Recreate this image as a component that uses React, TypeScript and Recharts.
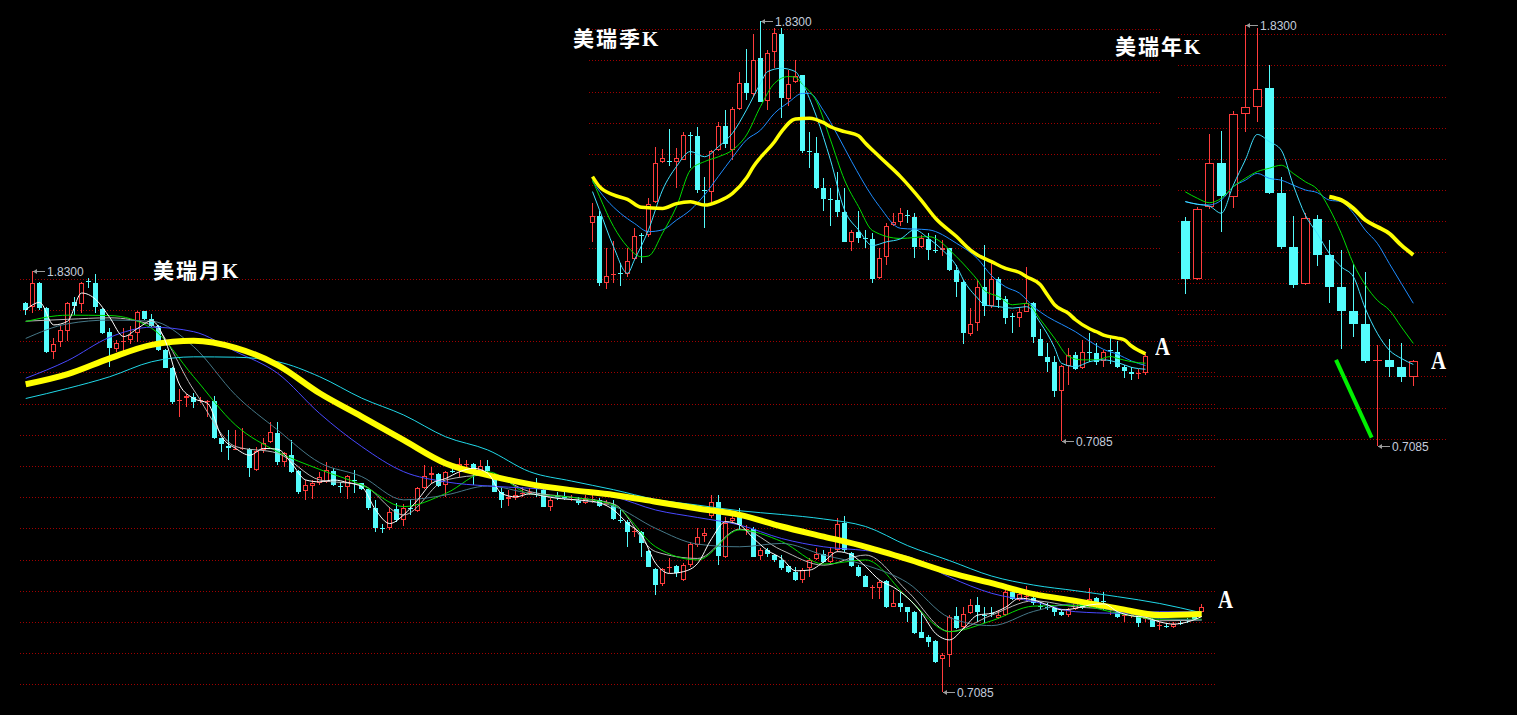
import React from "react";
import {
  ComposedChart, Bar, Line, XAxis, YAxis, CartesianGrid, ReferenceDot, ReferenceLine,
} from "recharts";

const WIDTH = 1517;
const HEIGHT = 715;
const UP_COLOR = "#ff3c3c";
const DOWN_COLOR = "#54fcfc";
const GRID_COLOR = "#a00000";

type Ohlc = [number, number, number, number];
type Pt = [number, number];

// 月K  [open, high, low, close]
const monthBars: Ohlc[] = [
  [1.743, 1.747, 1.711, 1.725], [1.732, 1.83, 1.716, 1.798], [1.798, 1.8, 1.725, 1.729], [1.729, 1.734, 1.61, 1.614],
  [1.614, 1.649, 1.593, 1.634], [1.64, 1.685, 1.627, 1.671], [1.67, 1.746, 1.643, 1.744], [1.745, 1.76, 1.711, 1.736],
  [1.741, 1.8, 1.716, 1.798], [1.801, 1.809, 1.783, 1.799], [1.796, 1.822, 1.716, 1.732], [1.727, 1.729, 1.662, 1.664],
  [1.666, 1.676, 1.572, 1.624], [1.621, 1.645, 1.614, 1.636], [1.639, 1.676, 1.614, 1.641], [1.645, 1.682, 1.634, 1.659],
  [1.664, 1.723, 1.64, 1.72], [1.722, 1.722, 1.698, 1.701], [1.701, 1.713, 1.679, 1.683], [1.682, 1.684, 1.616, 1.618],
  [1.618, 1.62, 1.569, 1.571], [1.571, 1.573, 1.474, 1.481], [1.483, 1.513, 1.439, 1.485], [1.491, 1.5, 1.466, 1.497],
  [1.494, 1.503, 1.463, 1.481], [1.482, 1.494, 1.476, 1.484], [1.48, 1.485, 1.441, 1.482], [1.483, 1.497, 1.381, 1.383],
  [1.383, 1.385, 1.347, 1.367], [1.362, 1.405, 1.325, 1.356], [1.353, 1.405, 1.352, 1.355], [1.354, 1.41, 1.352, 1.356],
  [1.354, 1.356, 1.281, 1.303], [1.299, 1.361, 1.297, 1.35], [1.352, 1.383, 1.345, 1.371], [1.374, 1.427, 1.371, 1.401],
  [1.398, 1.427, 1.312, 1.321], [1.321, 1.347, 1.306, 1.343], [1.338, 1.378, 1.291, 1.294], [1.296, 1.298, 1.235, 1.241],
  [1.243, 1.272, 1.219, 1.259], [1.256, 1.272, 1.22, 1.263], [1.263, 1.294, 1.259, 1.281], [1.267, 1.321, 1.265, 1.299],
  [1.297, 1.303, 1.256, 1.259], [1.257, 1.267, 1.236, 1.255], [1.252, 1.285, 1.222, 1.283], [1.273, 1.299, 1.238, 1.271],
  [1.263, 1.265, 1.245, 1.247], [1.247, 1.25, 1.192, 1.196], [1.196, 1.219, 1.134, 1.143], [1.144, 1.156, 1.13, 1.142],
  [1.143, 1.199, 1.139, 1.188], [1.194, 1.21, 1.161, 1.165], [1.165, 1.208, 1.149, 1.196], [1.197, 1.22, 1.179, 1.195],
  [1.19, 1.252, 1.188, 1.25], [1.25, 1.312, 1.247, 1.283], [1.285, 1.307, 1.263, 1.29], [1.288, 1.29, 1.252, 1.256],
  [1.259, 1.297, 1.227, 1.294], [1.295, 1.307, 1.29, 1.293], [1.303, 1.33, 1.281, 1.314], [1.313, 1.325, 1.299, 1.315],
  [1.315, 1.316, 1.259, 1.288], [1.296, 1.325, 1.291, 1.31], [1.31, 1.325, 1.287, 1.296], [1.285, 1.29, 1.239, 1.241],
  [1.241, 1.25, 1.196, 1.219], [1.221, 1.245, 1.203, 1.226], [1.223, 1.259, 1.219, 1.232], [1.235, 1.254, 1.227, 1.237],
  [1.237, 1.25, 1.232, 1.239], [1.251, 1.276, 1.227, 1.249], [1.245, 1.25, 1.199, 1.201], [1.201, 1.223, 1.19, 1.219],
  [1.228, 1.241, 1.219, 1.226], [1.229, 1.245, 1.219, 1.223], [1.225, 1.232, 1.217, 1.227], [1.219, 1.226, 1.205, 1.21],
  [1.21, 1.232, 1.208, 1.222], [1.218, 1.235, 1.21, 1.22], [1.219, 1.223, 1.199, 1.203], [1.206, 1.219, 1.203, 1.21],
  [1.205, 1.219, 1.165, 1.167], [1.165, 1.192, 1.158, 1.163], [1.161, 1.165, 1.094, 1.134], [1.133, 1.148, 1.121, 1.136],
  [1.134, 1.136, 1.068, 1.103], [1.084, 1.085, 1.039, 1.041], [1.034, 1.037, 0.966, 0.992], [0.995, 1.037, 0.99, 1.034],
  [1.038, 1.063, 1.025, 1.04], [1.043, 1.045, 1.014, 1.025], [1.005, 1.05, 1.004, 1.045], [1.045, 1.108, 1.041, 1.101],
  [1.099, 1.143, 1.094, 1.119], [1.123, 1.143, 1.108, 1.13], [1.176, 1.232, 1.17, 1.214], [1.214, 1.232, 1.045, 1.069],
  [1.066, 1.174, 1.063, 1.158], [1.164, 1.183, 1.156, 1.17], [1.176, 1.196, 1.139, 1.152], [1.14, 1.152, 1.125, 1.142],
  [1.141, 1.148, 1.066, 1.068], [1.069, 1.09, 1.059, 1.085], [1.085, 1.09, 1.066, 1.075], [1.072, 1.075, 1.054, 1.059],
  [1.059, 1.072, 1.032, 1.037], [1.043, 1.045, 1.023, 1.028], [1.028, 1.039, 1.004, 1.005], [1.005, 1.037, 0.998, 1.032],
  [1.037, 1.063, 1.014, 1.059], [1.061, 1.09, 1.059, 1.075], [1.075, 1.085, 1.05, 1.054], [1.054, 1.094, 1.05, 1.081],
  [1.085, 1.172, 1.081, 1.156], [1.158, 1.176, 1.081, 1.085], [1.077, 1.081, 1.039, 1.043], [1.041, 1.045, 1.014, 1.016],
  [1.016, 1.019, 0.986, 0.988], [0.985, 0.992, 0.954, 0.987], [0.983, 1.005, 0.954, 1.001], [1.004, 1.005, 0.93, 0.934],
  [0.934, 0.979, 0.933, 0.943], [0.943, 0.974, 0.921, 0.933], [0.933, 0.934, 0.894, 0.921], [0.921, 0.922, 0.863, 0.865],
  [0.868, 0.917, 0.85, 0.852], [0.855, 0.859, 0.828, 0.841], [0.844, 0.846, 0.785, 0.788], [0.794, 0.812, 0.7085, 0.806],
  [0.806, 0.912, 0.773, 0.908], [0.91, 0.934, 0.874, 0.877], [0.879, 0.934, 0.877, 0.915], [0.918, 0.954, 0.915, 0.939],
  [0.939, 0.959, 0.894, 0.921], [0.913, 0.934, 0.892, 0.911], [0.918, 0.934, 0.906, 0.916], [0.903, 0.926, 0.902, 0.912],
  [0.912, 0.979, 0.91, 0.974], [0.974, 0.983, 0.952, 0.954], [0.952, 0.974, 0.95, 0.968], [0.96, 0.99, 0.95, 0.962],
  [0.957, 0.961, 0.939, 0.943], [0.935, 0.948, 0.926, 0.933], [0.934, 0.943, 0.926, 0.932], [0.93, 0.934, 0.91, 0.921],
  [0.921, 0.926, 0.91, 0.912], [0.912, 0.93, 0.908, 0.926], [0.928, 0.952, 0.926, 0.943], [0.942, 0.948, 0.927, 0.93],
  [0.934, 0.983, 0.93, 0.954], [0.957, 0.961, 0.93, 0.948], [0.949, 0.974, 0.926, 0.947], [0.926, 0.936, 0.912, 0.934],
  [0.921, 0.926, 0.903, 0.906], [0.909, 0.917, 0.894, 0.911], [0.911, 0.917, 0.903, 0.913], [0.908, 0.912, 0.881, 0.89],
  [0.902, 0.908, 0.894, 0.904], [0.899, 0.903, 0.879, 0.881], [0.883, 0.894, 0.872, 0.885], [0.884, 0.89, 0.877, 0.882],
  [0.881, 0.894, 0.877, 0.888], [0.891, 0.897, 0.886, 0.889], [0.898, 0.903, 0.892, 0.896], [0.908, 0.917, 0.899, 0.901],
  [0.921, 0.942, 0.918, 0.934],
];

// 月K均线 [bar index, value]
const monthMa5: Pt[] = [
  [0, 1.725], [2, 1.745], [4, 1.685], [6, 1.695], [8, 1.77], [10, 1.753], [12, 1.705], [14, 1.654], [16, 1.676],
  [18, 1.696], [20, 1.64], [22, 1.525], [24, 1.489], [26, 1.476], [28, 1.387], [30, 1.356], [32, 1.338], [34, 1.356],
  [36, 1.354], [38, 1.316], [40, 1.272], [42, 1.267], [44, 1.272], [46, 1.265], [48, 1.254], [50, 1.192], [52, 1.156],
  [54, 1.179], [56, 1.219], [58, 1.263], [60, 1.276], [62, 1.294], [64, 1.303], [66, 1.29], [68, 1.236], [70, 1.227],
  [72, 1.235], [74, 1.229], [76, 1.223], [78, 1.22], [80, 1.217], [82, 1.211], [84, 1.192], [86, 1.156], [88, 1.125],
  [90, 1.05], [92, 1.023], [94, 1.028], [96, 1.05], [98, 1.116], [100, 1.161], [102, 1.152], [104, 1.116], [106, 1.084],
  [108, 1.063], [110, 1.03], [112, 1.032], [114, 1.054], [116, 1.081], [118, 1.072], [120, 1.041], [122, 1.005],
  [124, 0.986], [126, 0.958], [128, 0.917], [130, 0.863], [132, 0.846], [134, 0.877], [136, 0.912], [138, 0.917],
  [140, 0.933], [142, 0.957], [144, 0.952], [146, 0.939], [148, 0.926], [150, 0.93], [152, 0.939], [154, 0.942],
  [156, 0.921], [158, 0.91], [160, 0.906], [162, 0.894], [164, 0.888], [166, 0.894], [168, 0.908],
];
const monthMa10: Pt[] = [
  [0, 1.695], [6, 1.7], [12, 1.704], [18, 1.685], [24, 1.512], [30, 1.361], [36, 1.343], [42, 1.272], [48, 1.259],
  [54, 1.179], [60, 1.272], [66, 1.285], [72, 1.241], [78, 1.226], [84, 1.208], [90, 1.081], [96, 1.063], [102, 1.141],
  [108, 1.085], [114, 1.045], [120, 1.072], [126, 0.975], [132, 0.868], [138, 0.912], [144, 0.95], [150, 0.934],
  [156, 0.926], [162, 0.897], [168, 0.899],
];
const monthMa20: Pt[] = [
  [0, 1.694], [6, 1.711], [12, 1.71], [18, 1.676], [24, 1.547], [30, 1.418], [36, 1.347], [42, 1.3], [48, 1.259],
  [54, 1.201], [60, 1.236], [66, 1.294], [72, 1.235], [78, 1.226], [84, 1.205], [90, 1.094], [96, 1.059], [102, 1.139],
  [108, 1.108], [114, 1.048], [120, 1.059], [126, 0.958], [132, 0.868], [138, 0.897], [144, 0.936], [150, 0.938],
  [156, 0.917], [162, 0.901], [168, 0.901],
];
const monthMa30: Pt[] = [
  [0, 1.649], [6, 1.688], [12, 1.698], [18, 1.695], [24, 1.627], [30, 1.498], [36, 1.405], [42, 1.318], [48, 1.281],
  [54, 1.219], [60, 1.232], [66, 1.256], [72, 1.236], [78, 1.22], [84, 1.202], [90, 1.143], [96, 1.101], [102, 1.094],
  [108, 1.103], [114, 1.072], [120, 1.045], [126, 0.998], [132, 0.905], [138, 0.884], [144, 0.922], [150, 0.942],
  [156, 0.921], [162, 0.903], [168, 0.899],
];
const monthMa60: Pt[] = [
  [0, 1.543], [6, 1.59], [12, 1.652], [18, 1.679], [24, 1.667], [30, 1.614], [36, 1.556], [42, 1.449], [48, 1.361],
  [54, 1.294], [60, 1.267], [66, 1.256], [72, 1.25], [78, 1.241], [84, 1.227], [90, 1.192], [96, 1.172], [102, 1.152],
  [108, 1.116], [114, 1.094], [120, 1.084], [126, 1.068], [132, 1.013], [138, 0.97], [144, 0.948], [150, 0.921],
  [156, 0.917], [162, 0.921], [168, 0.921],
];
const monthMa90: Pt[] = [
  [0, 1.527], [6, 1.554], [12, 1.596], [18, 1.632], [24, 1.643], [30, 1.624], [36, 1.578], [42, 1.503], [48, 1.441],
  [54, 1.378], [60, 1.316], [66, 1.285], [72, 1.261], [78, 1.245], [84, 1.232], [90, 1.214], [96, 1.196], [102, 1.179],
  [108, 1.148], [114, 1.121], [120, 1.094], [126, 1.061], [132, 1.025], [138, 0.997], [144, 0.968], [150, 0.95],
  [156, 0.93], [162, 0.912], [168, 0.915],
];
const monthMa120: Pt[] = [
  [0, 1.489], [6, 1.516], [12, 1.547], [18, 1.587], [24, 1.6], [30, 1.599], [36, 1.587], [42, 1.547], [48, 1.49],
  [54, 1.445], [60, 1.387], [66, 1.352], [72, 1.294], [78, 1.269], [84, 1.246], [90, 1.22], [96, 1.205], [102, 1.19],
  [108, 1.18], [114, 1.168], [120, 1.148], [126, 1.097], [132, 1.057], [138, 1.016], [144, 0.992], [150, 0.977],
  [156, 0.961], [162, 0.943], [168, 0.918],
];

// 季K
const quarterBars: Ohlc[] = [
  [1.291, 1.343, 1.24, 1.309], [1.309, 1.321, 1.122, 1.131], [1.129, 1.223, 1.113, 1.149], [1.151, 1.243, 1.129, 1.154],
  [1.157, 1.183, 1.123, 1.155], [1.153, 1.223, 1.147, 1.189], [1.193, 1.276, 1.192, 1.256], [1.257, 1.263, 1.183, 1.255],
  [1.258, 1.356, 1.254, 1.34], [1.345, 1.494, 1.343, 1.449], [1.452, 1.487, 1.449, 1.463], [1.455, 1.54, 1.443, 1.453],
  [1.452, 1.49, 1.383, 1.463], [1.458, 1.534, 1.458, 1.525], [1.526, 1.534, 1.436, 1.524], [1.522, 1.547, 1.369, 1.378],
  [1.379, 1.414, 1.278, 1.377], [1.374, 1.485, 1.345, 1.483], [1.485, 1.561, 1.481, 1.55], [1.55, 1.592, 1.49, 1.5],
  [1.485, 1.601, 1.458, 1.594], [1.594, 1.694, 1.592, 1.663], [1.665, 1.754, 1.618, 1.636], [1.634, 1.794, 1.627, 1.725],
  [1.73, 1.83, 1.614, 1.614], [1.616, 1.752, 1.592, 1.743], [1.747, 1.81, 1.703, 1.796], [1.795, 1.81, 1.571, 1.625],
  [1.622, 1.699, 1.602, 1.66], [1.666, 1.725, 1.663, 1.682], [1.685, 1.685, 1.476, 1.481], [1.482, 1.532, 1.438, 1.48],
  [1.476, 1.521, 1.381, 1.383], [1.383, 1.409, 1.323, 1.354], [1.355, 1.383, 1.281, 1.353], [1.352, 1.427, 1.307, 1.319],
  [1.319, 1.383, 1.239, 1.24], [1.24, 1.272, 1.216, 1.265], [1.265, 1.321, 1.236, 1.251], [1.25, 1.272, 1.223, 1.249],
  [1.247, 1.263, 1.129, 1.14], [1.143, 1.223, 1.14, 1.196], [1.199, 1.289, 1.178, 1.282], [1.285, 1.316, 1.281, 1.294],
  [1.294, 1.329, 1.281, 1.316], [1.312, 1.325, 1.289, 1.311], [1.305, 1.316, 1.196, 1.225], [1.225, 1.258, 1.223, 1.249],
  [1.247, 1.263, 1.192, 1.218], [1.218, 1.258, 1.211, 1.217], [1.217, 1.245, 1.201, 1.223], [1.223, 1.223, 1.163, 1.165],
  [1.165, 1.178, 1.092, 1.134], [1.134, 1.138, 0.967, 0.996], [0.994, 1.063, 0.99, 1.02], [1.023, 1.138, 1.003, 1.119],
  [1.119, 1.232, 1.043, 1.069], [1.069, 1.192, 1.063, 1.14], [1.14, 1.147, 1.063, 1.085], [1.087, 1.096, 1.02, 1.036],
  [1.041, 1.051, 0.998, 1.04], [1.036, 1.067, 1.014, 1.052], [1.054, 1.172, 1.054, 1.076], [1.078, 1.08, 0.971, 0.985],
  [0.98, 1.008, 0.934, 0.936], [0.933, 0.971, 0.893, 0.92], [0.919, 0.934, 0.827, 0.843], [0.843, 0.91, 0.7085, 0.909],
  [0.909, 0.956, 0.858, 0.938], [0.938, 0.947, 0.898, 0.901], [0.902, 0.978, 0.901, 0.947], [0.946, 0.996, 0.918, 0.945],
  [0.943, 0.969, 0.912, 0.92], [0.922, 0.952, 0.905, 0.945], [0.951, 0.983, 0.914, 0.95], [0.945, 0.976, 0.903, 0.906],
  [0.907, 0.912, 0.876, 0.894], [0.892, 0.907, 0.871, 0.887], [0.888, 0.901, 0.873, 0.89], [0.889, 0.94, 0.885, 0.936],
];

const quarterMa5: Pt[] = [
  [0, 1.374], [1, 1.325], [3, 1.227], [5, 1.156], [6, 1.192], [8, 1.272], [10, 1.378], [12, 1.441], [14, 1.481],
  [16, 1.467], [18, 1.494], [20, 1.53], [22, 1.592], [24, 1.663], [25, 1.694], [27, 1.703], [29, 1.694], [30, 1.663],
  [32, 1.574], [34, 1.458], [36, 1.325], [38, 1.272], [40, 1.23], [42, 1.24], [44, 1.248], [46, 1.272], [48, 1.249],
  [50, 1.218], [52, 1.175], [53, 1.138], [55, 1.09], [56, 1.072], [58, 1.067], [60, 1.063], [62, 1.067], [64, 1.023],
  [66, 0.958], [67, 0.916], [69, 0.907], [71, 0.92], [73, 0.925], [75, 0.918], [77, 0.905], [79, 0.9],
];
const quarterMa10: Pt[] = [
  [0, 1.405], [1, 1.361], [3, 1.281], [5, 1.227], [7, 1.2], [8, 1.202], [10, 1.263], [12, 1.334], [14, 1.432],
  [16, 1.454], [18, 1.467], [20, 1.485], [22, 1.525], [24, 1.601], [26, 1.663], [28, 1.681], [29, 1.679], [30, 1.66],
  [32, 1.615], [34, 1.512], [36, 1.405], [38, 1.334], [40, 1.27], [44, 1.249], [48, 1.254], [52, 1.2], [54, 1.16],
  [55, 1.138], [56, 1.11], [58, 1.094], [60, 1.072], [62, 1.076], [64, 1.032], [66, 0.983], [68, 0.934], [70, 0.925],
  [72, 0.925], [74, 0.934], [75, 0.929], [77, 0.92], [79, 0.916],
];
const quarterMa20: Pt[] = [
  [0, 1.401], [2, 1.352], [4, 1.316], [6, 1.289], [8, 1.267], [10, 1.272], [12, 1.298], [14, 1.325], [16, 1.365],
  [18, 1.415], [20, 1.465], [22, 1.512], [24, 1.538], [26, 1.583], [28, 1.612], [30, 1.636], [31, 1.636], [33, 1.59],
  [35, 1.525], [37, 1.455], [40, 1.36], [41, 1.334], [44, 1.276], [48, 1.272], [52, 1.236], [55, 1.195], [57, 1.15],
  [59, 1.12], [61, 1.103], [63, 1.067], [65, 1.04], [67, 1.02], [69, 1.0], [71, 0.975], [73, 0.953], [75, 0.94],
  [77, 0.922], [79, 0.91],
];
const quarterMa90: Pt[] = [
  [0, 1.414], [1, 1.387], [3, 1.365], [5, 1.353], [7, 1.332], [10, 1.329], [12, 1.342], [14, 1.347], [16, 1.338],
  [18, 1.348], [20, 1.369], [22, 1.41], [23, 1.441], [24, 1.465], [26, 1.507], [27, 1.534], [29, 1.568], [31, 1.57],
  [33, 1.558], [34, 1.547], [36, 1.534], [38, 1.523], [39, 1.503], [41, 1.467], [44, 1.414], [47, 1.35], [49, 1.303],
  [52, 1.254], [54, 1.218], [55, 1.205], [57, 1.187], [59, 1.169], [61, 1.158], [62, 1.147], [64, 1.125], [65, 1.098],
  [66, 1.072], [68, 1.049], [69, 1.032], [71, 1.008], [72, 1.0], [73, 0.991], [75, 0.983], [76, 0.978], [77, 0.962],
  [79, 0.941],
];

// 年K
const yearBars: Ohlc[] = [
  [1.308, 1.318, 1.113, 1.155], [1.155, 1.346, 1.151, 1.339], [1.345, 1.54, 1.339, 1.462], [1.462, 1.548, 1.278, 1.376],
  [1.373, 1.602, 1.342, 1.593], [1.593, 1.83, 1.545, 1.611], [1.613, 1.822, 1.571, 1.659], [1.663, 1.723, 1.38, 1.382],
  [1.382, 1.426, 1.233, 1.24], [1.238, 1.322, 1.129, 1.138], [1.14, 1.329, 1.138, 1.315], [1.314, 1.324, 1.189, 1.218],
  [1.218, 1.258, 1.091, 1.133], [1.133, 1.231, 0.966, 1.069], [1.069, 1.195, 0.998, 1.034], [1.034, 1.173, 0.93, 0.935],
  [0.934, 0.977, 0.7085, 0.937], [0.938, 0.995, 0.893, 0.92], [0.918, 0.982, 0.88, 0.893], [0.893, 0.939, 0.869, 0.935],
];
const yearMa5: Pt[] = [
  [0, 1.36], [1, 1.353], [2, 1.348], [3, 1.329], [4, 1.404], [5, 1.471], [6, 1.539], [7, 1.52], [8, 1.497], [9, 1.404],
  [10, 1.324], [11, 1.275], [12, 1.222], [13, 1.186], [14, 1.16], [15, 1.075], [16, 1.009], [17, 0.964], [18, 0.942],
  [19, 0.926],
];
const yearMa10: Pt[] = [
  [0, 1.386], [1, 1.369], [2, 1.357], [3, 1.369], [4, 1.4], [5, 1.422], [6, 1.44], [7, 1.449], [8, 1.457], [9, 1.435],
  [10, 1.413], [11, 1.393], [12, 1.342], [13, 1.275], [14, 1.195], [15, 1.138], [16, 1.097], [17, 1.071], [18, 1.026],
  [19, 0.982],
];
const yearMa20: Pt[] = [
  [0, 1.36], [1, 1.353], [2, 1.351], [3, 1.364], [4, 1.4], [5, 1.417], [6, 1.435], [7, 1.422], [8, 1.417], [9, 1.404],
  [10, 1.391], [11, 1.384], [12, 1.364], [13, 1.36], [14, 1.329], [15, 1.284], [16, 1.249], [17, 1.195], [18, 1.142],
  [19, 1.089],
];
const yearMa60: Pt[] = [
  [12, 1.373], [13, 1.364], [14, 1.342], [15, 1.311], [16, 1.293], [17, 1.275], [18, 1.244], [19, 1.218],
];
// hand-drawn trend stroke under the yearly bars
const yearTrend: Pt[] = [[12.56, 0.938], [15.53, 0.731]];

interface SeriesDef { key: string; pts: Pt[]; color: string; width: number; }
interface PanelDef {
  bars: Ohlc[];
  series: SeriesDef[];
  box: { left: number; right: number; top: number; bottom: number };
  padLeft: number;
  padRight: number;
  barSize: number;
  grid: number[];
  trend?: Pt[];
}

// dotted guide rows sit on a fixed pixel lattice
const lattice = (start: number, step: number, from: number, to: number) =>
  Array.from({ length: to - from + 1 }, (_, i) => Math.round(start + step * (from + i)) + 0.5);

const panels: PanelDef[] = [
  {
    bars: monthBars,
    series: [
      { key: "ma10", pts: monthMa10, color: "#b8b8b8", width: 1 },
      { key: "ma20", pts: monthMa20, color: "#00dc00", width: 1 },
      { key: "ma30", pts: monthMa30, color: "#467888", width: 1 },
      { key: "ma60", pts: monthMa60, color: "#4848ff", width: 1 },
      { key: "ma120", pts: monthMa120, color: "#20d8e8", width: 1 },
      { key: "ma90", pts: monthMa90, color: "#ffff00", width: 6 },
      { key: "ma5", pts: monthMa5, color: "#ffffff", width: 1 },
    ],
    box: { left: 20, right: 1215, top: 270.5, bottom: 691.5 },
    padLeft: 2.2,
    padRight: 9.8,
    barSize: 5,
    grid: lattice(29.3, 31.19, 8, 21),
  },
  {
    bars: quarterBars,
    series: [
      { key: "ma20", pts: quarterMa20, color: "#1e8cff", width: 1 },
      { key: "ma10", pts: quarterMa10, color: "#00dc00", width: 1 },
      { key: "ma5", pts: quarterMa5, color: "#40e0ff", width: 1 },
      { key: "ma90", pts: quarterMa90, color: "#ffff00", width: 3.5 },
    ],
    box: { left: 589, right: 1162, top: 20.7, bottom: 441 },
    padLeft: 0,
    padRight: 13,
    barSize: 5,
    grid: lattice(29.3, 31.19, 0, 7),
  },
  {
    bars: yearBars,
    series: [
      { key: "ma20", pts: yearMa20, color: "#1e8cff", width: 1 },
      { key: "ma10", pts: yearMa10, color: "#00dc00", width: 1 },
      { key: "ma5", pts: yearMa5, color: "#40e0ff", width: 1 },
      { key: "ma60", pts: yearMa60, color: "#ffff00", width: 4 },
    ],
    box: { left: 1178, right: 1447, top: 25.3, bottom: 446 },
    padLeft: 1.3,
    padRight: 27.7,
    barSize: 9,
    grid: lattice(34.3, 31.1, 0, 13),
    trend: yearTrend,
  },
];

function buildRows(bars: Ohlc[], series: SeriesDef[]) {
  const rows: Record<string, unknown>[] = bars.map(([o, h, l, c], k) => ({ k, o, h, l, c, hl: [l, h] }));
  series.forEach((s) => s.pts.forEach(([k, v]) => { rows[k][s.key] = v; }));
  return rows;
}

function Candle(props: any) {
  const { x, y, width, height, payload } = props;
  const { o, h, l, c } = payload;
  const top = Math.min(y, y + height);
  const span = Math.abs(height);
  const py = (v: number) => (h === l ? top : top + ((h - v) / (h - l)) * span);
  const cx = Math.floor(x + width / 2) + 0.5;
  const half = Math.floor(width / 2);
  const up = c >= o;
  const color = up ? UP_COLOR : DOWN_COLOR;
  const bTop = Math.round(py(Math.max(o, c)));
  const bBot = Math.round(py(Math.min(o, c)));
  const thin = bBot - bTop < 2;
  return (
    <g shapeRendering="crispEdges">
      <line x1={cx} x2={cx} y1={Math.round(py(h))} y2={Math.round(py(l))} stroke={color} strokeWidth={1} />
      {up && !thin ? (
        <rect x={cx - half} y={bTop + 0.5} width={half * 2} height={bBot - bTop - 1} fill="#000" stroke={color} strokeWidth={1} />
      ) : (
        <rect x={cx - half - 0.5} y={bTop} width={half * 2 + 1} height={Math.max(1, bBot - bTop)} fill={color} />
      )}
    </g>
  );
}

function PriceTag({ cx, cy, text }: { cx: number; cy: number; text: string }) {
  const x0 = Math.floor(cx) + 1;
  const y0 = Math.round(cy) + 0.5;
  return (
    <g>
      <line x1={x0} y1={y0} x2={x0 + 12} y2={y0} stroke="#9c9c9c" strokeWidth={1} shapeRendering="crispEdges" />
      <path d={`M${x0},${y0} l4,-2.5 v5 z`} fill="#9c9c9c" />
      <text x={x0 + 14} y={y0 + 4.5} fill="#c4ccdc" fontSize={12} fontFamily='"Liberation Sans", Arial, sans-serif'>
        {text}
      </text>
    </g>
  );
}

function Panel({ def }: { def: PanelDef }) {
  const rows = buildRows(def.bars, def.series);
  const n = def.bars.length;
  const highs = def.bars.map((b) => b[1]);
  const lows = def.bars.map((b) => b[2]);
  const peak = Math.max(...highs);
  const trough = Math.min(...lows);
  const pad = { left: def.padLeft, right: def.padRight };
  const { box } = def;
  return (
    <div style={{ position: "absolute", left: 0, top: 0 }}>
      <ComposedChart
        width={WIDTH}
        height={HEIGHT}
        data={rows}
        margin={{ top: box.top, bottom: HEIGHT - box.bottom, left: box.left, right: WIDTH - box.right }}
      >
        <CartesianGrid vertical={false} horizontalPoints={def.grid} stroke={GRID_COLOR} strokeDasharray="1 2" />
        <XAxis dataKey="k" hide padding={pad} />
        <XAxis xAxisId="n" type="number" dataKey="k" hide padding={pad} domain={[-0.5, n - 0.5]} allowDataOverflow />
        <YAxis hide type="number" domain={[trough, peak]} />
        <Bar dataKey="hl" barSize={def.barSize} shape={(p: any) => <Candle {...p} />} isAnimationActive={false} />
        {def.series.map((s) => (
          <Line
            key={s.key}
            dataKey={s.key}
            stroke={s.color}
            strokeWidth={s.width}
            strokeLinejoin="round"
            dot={false}
            activeDot={false}
            connectNulls
            type="monotone"
            isAnimationActive={false}
          />
        ))}
        {def.trend && (
          <ReferenceLine
            xAxisId="n"
            segment={def.trend.map(([x, y]) => ({ x, y }))}
            stroke="#00f000"
            strokeWidth={4}
          />
        )}
        <ReferenceDot
          x={highs.indexOf(peak)}
          y={peak}
          shape={(p: any) => <PriceTag cx={p.cx} cy={p.cy} text={peak.toFixed(4)} />}
        />
        <ReferenceDot
          x={lows.indexOf(trough)}
          y={trough}
          shape={(p: any) => <PriceTag cx={p.cx} cy={p.cy} text={trough.toFixed(4)} />}
        />
      </ComposedChart>
    </div>
  );
}

const titles = [
  { text: "美瑞月K", left: 153, top: 261 },
  { text: "美瑞季K", left: 573, top: 29 },
  { text: "美瑞年K", left: 1115, top: 37 },
];
const endMarks = [
  { left: 1218, top: 587 },
  { left: 1155, top: 334 },
  { left: 1431, top: 348 },
];

export default function App() {
  return (
    <div style={{ position: "fixed", left: 0, top: 0, width: WIDTH, height: HEIGHT, background: "#000", overflow: "hidden" }}>
      {panels.map((p, i) => (
        <Panel key={i} def={p} />
      ))}
      {titles.map((t) => (
        <div
          key={t.text}
          style={{
            position: "absolute", left: t.left, top: t.top, color: "#fff", whiteSpace: "nowrap",
            fontFamily: '"Liberation Serif", "Noto Sans CJK SC", serif', fontWeight: 700,
            fontSize: 21, lineHeight: "21px", letterSpacing: 2,
          }}
        >
          {t.text}
        </div>
      ))}
      {endMarks.map((m, i) => (
        <div
          key={i}
          style={{
            position: "absolute", left: m.left, top: m.top, color: "#fff",
            fontFamily: '"Liberation Serif", serif', fontWeight: 700, fontSize: 26, lineHeight: "26px",
            transform: "scaleX(0.8)", transformOrigin: "left top",
          }}
        >
          A
        </div>
      ))}
    </div>
  );
}
